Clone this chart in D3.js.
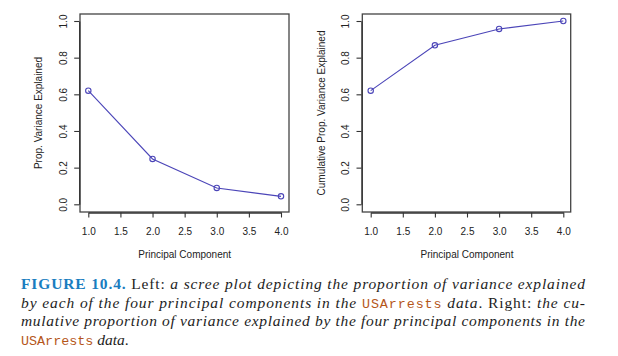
<!DOCTYPE html>
<html><head><meta charset="utf-8">
<script src="https://cdn.jsdelivr.net/npm/d3@7"></script>
<style>body{margin:0;background:#fff}svg{display:block}</style>
</head><body><svg id="c" width="618" height="356"></svg>
<script>
const components = [1, 2, 3, 4];
const pve = [0.6201, 0.2474, 0.0891, 0.0434];
const cumPve = [0.6201, 0.8675, 0.9566, 1.0];
const xTicks = [1.0, 1.5, 2.0, 2.5, 3.0, 3.5, 4.0];
const yTicks = [0.0, 0.2, 0.4, 0.6, 0.8, 1.0];
const xTitle = "Principal Component";
const yTitles = ["Prop. Variance Explained", "Cumulative Prop. Variance Explained"];

const svg = d3.select("#c");
const panels = [
  {vals: pve, box: [80, 14, 289, 212], xr: [88.3, 281], yTitleX: 38, title: yTitles[0]},
  {vals: cumPve, box: [362.3, 14, 570.7, 212], xr: [370.7, 563.3], yTitleX: 321.5, title: yTitles[1]}
];
const lineColor = "#4b45b8";
const axisColor = "#333";
const sans = "Liberation Sans, Arial, sans-serif";
panels.forEach(p => {
  const [x0, y0, x1, y1] = p.box;
  const x = d3.scaleLinear().domain([1, 4]).range(p.xr);
  const y = d3.scaleLinear().domain([0, 1]).range([204.3, 21]);
  const g = svg.append("g");
  g.append("rect").attr("x", x0).attr("y", y0).attr("width", x1 - x0).attr("height", y1 - y0)
    .attr("fill", "none").attr("stroke", "#444").attr("stroke-width", 1.3);
  const ax = g.append("g").attr("transform", `translate(0,${y1 + 0.5})`)
    .call(d3.axisBottom(x).tickValues(xTicks).tickFormat(d3.format(".1f")).tickSize(5).tickSizeOuter(0));
  ax.select(".domain").attr("stroke", axisColor).attr("stroke-width", 1.3);
  ax.selectAll(".tick line").attr("stroke", axisColor).attr("stroke-width", 1.1);
  ax.selectAll("text").attr("y", 22).attr("dy", 0).attr("fill", "#222")
    .attr("font-family", sans).attr("font-size", 10);
  const ay = g.append("g").attr("transform", `translate(${x0 - 0.8},0)`)
    .call(d3.axisLeft(y).tickValues(yTicks).tickFormat(d3.format(".1f")).tickSize(5).tickSizeOuter(0));
  ay.select(".domain").attr("stroke", axisColor).attr("stroke-width", 1.3);
  ay.selectAll(".tick line").attr("stroke", axisColor).attr("stroke-width", 1.1);
  ay.selectAll("text").attr("transform", "rotate(-90)").attr("x", 0).attr("y", -12.5).attr("dy", 0)
    .attr("text-anchor", "middle").attr("fill", "#222")
    .attr("font-family", sans).attr("font-size", 10);
  g.append("text").attr("x", (p.xr[0] + p.xr[1]) / 2).attr("y", 258).attr("text-anchor", "middle")
    .attr("font-family", sans).attr("font-size", 10).attr("fill", "#222").text(xTitle);
  g.append("text").attr("transform", `translate(${p.yTitleX + 3.5},113) rotate(-90)`).attr("text-anchor", "middle")
    .attr("font-family", sans).attr("font-size", 10).attr("fill", "#222").text(p.title);
  const data = components.map((c, i) => [c, p.vals[i]]);
  g.append("path").datum(data).attr("fill", "none").attr("stroke", lineColor).attr("stroke-width", 1.1)
    .attr("d", d3.line().x(d => x(d[0])).y(d => y(d[1])));
  g.selectAll("circle.pt").data(data).join("circle").attr("class", "pt")
    .attr("cx", d => x(d[0])).attr("cy", d => y(d[1])).attr("r", 2.7)
    .attr("fill", "none").attr("stroke", lineColor).attr("stroke-width", 1.1);
});

const serif = "Liberation Serif";
const mono = "Liberation Mono";
const blue = "#1a7dbf", orange = "#b5561a", ink = "#1d1d1d";
const captionLines = [
  {y: 289, just: true, parts: [
    {t: "FIGURE 10.4.", s: "bold", c: blue}, {t: " Left: ", s: "roman"},
    {t: "a scree plot depicting the proportion of variance explained", s: "italic"}]},
  {y: 307.7, just: true, parts: [
    {t: "by each of the four principal components in the ", s: "italic"}, {t: "USArrests", s: "mono"},
    {t: " data", s: "italic"}, {t: ". Right: ", s: "roman"}, {t: "the cu-", s: "italic"}]},
  {y: 326.4, just: true, parts: [
    {t: "mulative proportion of variance explained by the four principal components in the", s: "italic"}]},
  {y: 345, just: false, parts: [
    {t: "USArrests", s: "mono"}, {t: " data", s: "italic"}, {t: ".", s: "roman"}]}
];
captionLines.forEach(l => {
  const t = svg.append("text").attr("x", 21).attr("y", l.y).attr("font-size", 15.5)
    .attr("font-family", serif).attr("fill", ink).style("white-space", "pre");
  if (l.just) t.attr("textLength", 564).attr("lengthAdjust", "spacing");
  l.parts.forEach(pt => {
    const ts = t.append("tspan").text(pt.t);
    if (pt.s === "mono") ts.attr("font-family", mono).attr("font-size", 13.4).attr("fill", orange);
    else {
      ts.attr("font-family", serif);
      if (pt.s === "bold") ts.attr("font-weight", "bold").attr("fill", pt.c);
      if (pt.s === "italic") ts.attr("font-style", "italic");
    }
  });
});
</script></body></html>
